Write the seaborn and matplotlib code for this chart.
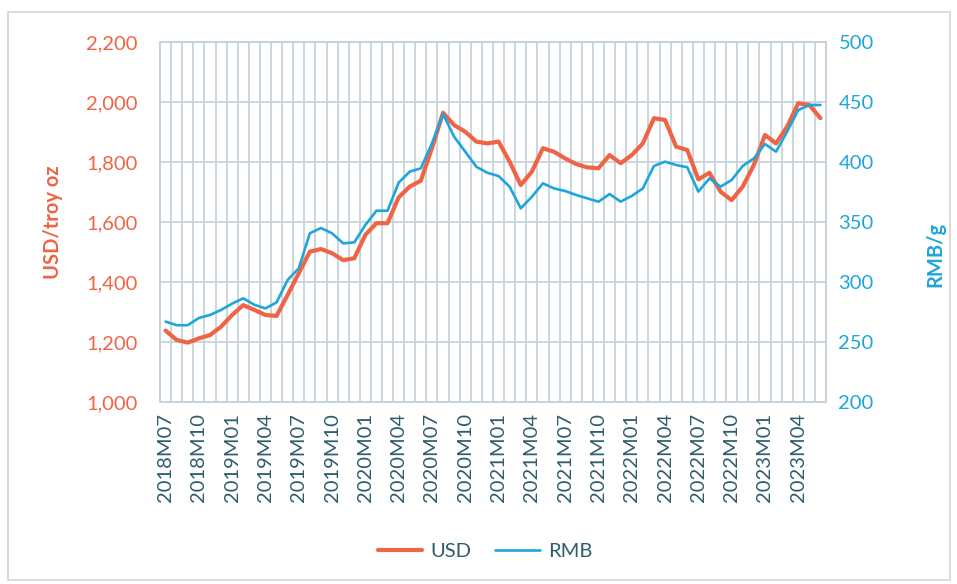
import numpy as np
import pandas as pd
import matplotlib
matplotlib.use("Agg")
import matplotlib.pyplot as plt
from matplotlib.patches import Rectangle
from matplotlib.ticker import FuncFormatter
import seaborn as sns

# monthly categories 2018M07 .. 2023M06
months = [f"{y}M{m:02d}" for y in range(2018, 2024) for m in range(1, 13)]
months = months[6:66]

usd_price = [1238, 1207, 1198, 1212, 1223, 1251, 1290, 1323, 1307, 1290,
             1287, 1357, 1429, 1501, 1510, 1496, 1473, 1479, 1557, 1596,
             1596, 1682, 1718, 1738, 1846, 1964, 1923, 1901, 1868, 1862,
             1868, 1801, 1723, 1768, 1846, 1834, 1812, 1793, 1782, 1779,
             1823, 1796, 1823, 1862, 1946, 1940, 1851, 1840, 1742, 1764,
             1701, 1673, 1718, 1790, 1890, 1862, 1918, 1996, 1990, 1946]

rmb_price = [267, 264, 264, 270, 272.5, 276.7, 282, 286.4, 281, 278,
             283, 301.7, 311.4, 340.6, 345, 340.6, 332.2, 333, 347.5, 359.4,
             359.4, 382.8, 392, 394.7, 415.6, 440, 421, 408.6, 396, 391,
             388.3, 379.4, 361.4, 371, 382.2, 378, 375.8, 372.5, 369.7, 366.9,
             373.3, 367, 371.7, 378, 396.7, 400.3, 397.5, 395.6, 375.3, 386.4,
             379.4, 385, 396.7, 403, 415, 408.6, 425.3, 443.3, 447.5, 447.5]

usd_ticks = [1000, 1200, 1400, 1600, 1800, 2000, 2200]
rmb_ticks = [200, 250, 300, 350, 400, 450, 500]

RED = "#ee6445"
BLUE = "#1ea5dc"
GRID = "#c6d3dc"
XTXT = "#2f5d6b"

sns.set_style("white")
plt.rcParams["font.family"] = ["Lato", "DejaVu Sans"]

df = pd.DataFrame({"pos": np.arange(len(months)), "month": months,
                   "USD": usd_price, "RMB": rmb_price})

fig = plt.figure(figsize=(9.57, 5.84), dpi=100)
fig.patches.append(Rectangle((8 / 957, 1 - 580 / 584), 942 / 957, 568 / 584,
                             transform=fig.transFigure, fill=False,
                             edgecolor="#d4d4d4", linewidth=1.2))
ax = fig.add_axes([160 / 957, 1 - 402 / 584, 666 / 957, 360 / 584])
ax2 = ax.twinx()

sns.lineplot(data=df, x="pos", y="USD", ax=ax, color=RED, linewidth=3.0,
             label="USD", legend=False, zorder=3)
sns.lineplot(data=df, x="pos", y="RMB", ax=ax2, color=BLUE, linewidth=1.9,
             label="RMB", legend=False, zorder=4)

# left axis (USD)
ax.set_ylim(1000, 2200)
ax.set_yticks(usd_ticks)
ax.yaxis.set_major_formatter(FuncFormatter(lambda v, p: f"{int(v):,}"))
ax.tick_params(axis="y", colors=RED, labelsize=14.5, length=0, pad=16)
ax.set_ylabel("USD/troy oz", color=RED, fontsize=14.5, fontweight="bold")
ax.yaxis.set_label_coords(-0.146, 0.5)

# right axis (RMB)
ax2.set_ylim(200, 500)
ax2.set_yticks(rmb_ticks)
ax2.tick_params(axis="y", colors=BLUE, labelsize=14.5, length=0, pad=9)
ax2.set_ylabel("RMB/g", color=BLUE, fontsize=14.5, fontweight="bold")
ax2.yaxis.set_label_coords(1.149, 0.41)

# x axis: a label every third month, grid between categories
ax.set_xlim(-0.5, len(months) - 0.5)
ax.set_xticks(df["pos"][::3])
ax.set_xticklabels(df["month"][::3], rotation=90)
ax.set_xticks(np.arange(len(months) + 1) - 0.5, minor=True)
ax.tick_params(axis="x", which="both", length=0, colors=XTXT,
               labelsize=14.5, pad=8)
ax.set_xlabel("")

ax.grid(False)
ax2.grid(False)
ax.grid(axis="x", which="minor", color=GRID, linewidth=1.3)
ax.grid(axis="y", which="major", color=GRID, linewidth=1.3)
ax.set_axisbelow(True)
for a in (ax, ax2):
    for s in a.spines.values():
        s.set_color(GRID)
        s.set_linewidth(1.3)

handles = ax.get_lines()[:1] + ax2.get_lines()[:1]
fig.legend(handles, ["USD", "RMB"], loc="center", ncol=2, frameon=False,
           bbox_to_anchor=(485 / 957, 1 - 551 / 584), fontsize=14.5,
           handlelength=2.2, columnspacing=1.2, handletextpad=0.4,
           labelcolor=XTXT)

plt.savefig("out.png", dpi=100)
plt.close()
